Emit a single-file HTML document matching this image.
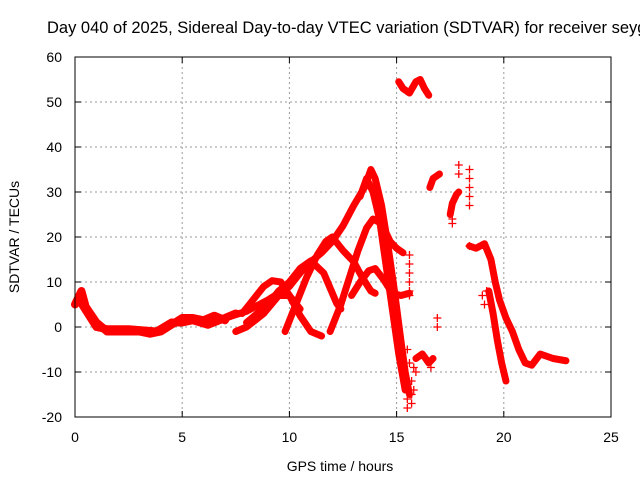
<!DOCTYPE html>
<html><head><meta charset="utf-8"><style>
body{margin:0;background:#fff}
svg{display:block;font-family:"Liberation Sans",sans-serif}
</style></head><body>
<svg id="c" width="640" height="480">
<text x="47" y="33" font-size="16.5" fill="#000">Day 040 of 2025, Sidereal Day-to-day VTEC variation (SDTVAR) for receiver seyg</text>
<g id="grid"></g><g id="marks"></g><g id="axes"></g>
<text x="340" y="471" font-size="14" text-anchor="middle">GPS time / hours</text>
<text transform="translate(19,237) rotate(-90)" font-size="14" text-anchor="middle">SDTVAR / TECUs</text>
</svg>
<script>
const xTicks=[0,5,10,15,20,25];
const yTicks=[-20,-10,0,10,20,30,40,50,60];
const trackStart=[[0,5],[0.3,8],[0.5,4.5],[1,1],[1.5,-1],[2,-1],[3,-1],[3.5,-1.5],[4,-1],[4.5,0.5],[5,2],[5.5,2],[6,1.5],[6.5,2.5],[7,1.5]];
const trackStart2=[[0.2,6],[0.6,3],[1,0],[1.5,-0.5],[2.5,-0.5],[3.8,-1],[4.5,1],[5,1],[5.5,1.5],[6.2,0.5],[7,2],[7.5,3]];
const trackA=[[7,2],[8,3.5],[9,6],[10,9],[10.5,12],[11,14.5],[11.5,16.5],[12,19],[12.5,22.5],[13,27],[13.5,31],[13.8,35],[14.0,33],[14.3,27],[14.6,18],[14.9,8],[15.2,-3],[15.4,-10],[15.6,-15]];
const trackA2=[[13.3,29],[13.6,33],[13.9,30],[14.2,24],[14.5,14],[14.8,4],[15.1,-6],[15.4,-14]];
const trackB=[[9.8,-1],[10.3,5],[10.8,11],[11.3,16],[11.7,19],[12,20],[12.5,17],[13,14.5],[13.4,11],[13.8,8],[14,7.5]];
const trackC=[[11.9,-1],[12.4,5],[12.8,11],[13.2,17],[13.6,22],[13.9,24],[14.3,23],[14.7,19],[15,17.5],[15.3,16.5]];
const trackD=[[12.9,7],[13.3,10],[13.7,12.5],[14,13],[14.4,10.5],[14.8,7.5],[15.2,7],[15.6,7.5]];
const trackE=[[7.5,-1],[8,0],[8.8,3],[9.5,7],[10,7],[10.5,2.5],[11,-1],[11.5,-2]];
const trackF=[[8,1],[8.5,3],[9,5],[9.5,8],[10,10],[10.5,13],[11,14.7],[11.6,12],[12.2,5.3],[12.4,4]];
const trackG=[[7.8,3],[8.3,6],[8.8,9],[9.2,10.3],[9.6,10],[10,7],[10.5,4]];
const trackH=[[15.1,54.5],[15.3,53],[15.6,52],[15.9,54.5],[16.1,55],[16.3,53],[16.5,51.5]];
const trackI=[[16.55,31],[16.7,33],[17,34]];
const trackJ=[[17.5,25],[17.6,27.5],[17.8,29.5],[17.9,30]];
const trackK=[[18.4,18],[18.7,17.5],[19.1,18.5],[19.4,15],[19.6,10],[19.8,6],[20.1,2],[20.4,-1],[20.7,-5],[21,-8],[21.3,-8.5],[21.7,-6],[22.3,-7],[22.9,-7.5]];
const trackL=[[19.3,8],[19.5,3],[19.7,-3],[19.9,-8],[20.1,-12]];
const trackM=[[15.9,-7],[16.2,-6],[16.5,-8],[16.7,-7]];
const tracks=[trackStart,trackStart2,trackA,trackA2,trackB,trackC,trackD,trackE,trackF,trackG,trackH,trackI,trackJ,trackK,trackL,trackM];
const crossH=[15.6,15.6,15.6,15.6,15.6,15.6,15.5,15.5,15.7,15.7,15.8,15.9,16.9,16.9,17.9,17.9,18.4,18.4,18.4,18.4,18.4,18.4,19.0,19.1,19.2,15.5,15.6,15.7,15.8,16.6,16.4,17.6,17.6];
const crossV=[16,14,12,10,8,7,-16,-18,-12,-15,-9,-10,2,0,36,34,35,33,31,29,27,18,7,5,8,-5,-8,-17,-14,-9,-7,24,23];
const X=h=>75+h*536/25, Y=v=>57+(60-v)*4.5;
const NS='http://www.w3.org/2000/svg';
const grid=document.getElementById('grid'),axes=document.getElementById('axes'),marks=document.getElementById('marks');
function mk(tag,attrs,parent){const e=document.createElementNS(NS,tag);for(const k in attrs)e.setAttribute(k,attrs[k]);parent.appendChild(e);return e;}
xTicks.forEach(t=>{
  if(t>0&&t<25){const g=mk('line',{x1:X(t),x2:X(t),y1:57,y2:417,stroke:'#999','stroke-dasharray':'2,3'},grid);
  
  }
  const tx=mk('text',{x:X(t),y:442,'font-size':14,'text-anchor':'middle'},axes);tx.textContent=t;
  
  
  mk('line',{x1:X(t),x2:X(t),y1:417,y2:411,stroke:'#000'},axes);mk('line',{x1:X(t),x2:X(t),y1:57,y2:63,stroke:'#000'},axes);
});
yTicks.forEach(t=>{
  if(t>-20&&t<60){const g=mk('line',{x1:75,x2:611,y1:Y(t),y2:Y(t),stroke:'#999','stroke-dasharray':'2,3'},grid);
  
  }
  const tx=mk('text',{x:62,y:Y(t)+5,'font-size':14,'text-anchor':'end'},axes);tx.textContent=t;
  
  
  mk('line',{x1:75,x2:81,y1:Y(t),y2:Y(t),stroke:'#000'},axes);mk('line',{x1:611,x2:605,y1:Y(t),y2:Y(t),stroke:'#000'},axes);
});
const fr=mk('rect',{x:75,y:57,width:536,height:360,fill:'none',stroke:'#000'},axes);


tracks.forEach((tr,i)=>{
  const p=mk('polyline',{points:tr.map(d=>X(d[0])+','+Y(d[1])).join(' '),fill:'none',stroke:'#f00','stroke-width':i<2?8:7,'stroke-linejoin':'round','stroke-linecap':'round'},marks);
  
  
});
crossH.forEach((h,i)=>{
  const x=X(h),y=Y(crossV[i]);
  const p=mk('path',{d:`M${x-4},${y}H${x+4}M${x},${y-4}V${y+4}`,stroke:'#f00','stroke-width':1.3},marks);
  
  
});
</script>
</body></html>
